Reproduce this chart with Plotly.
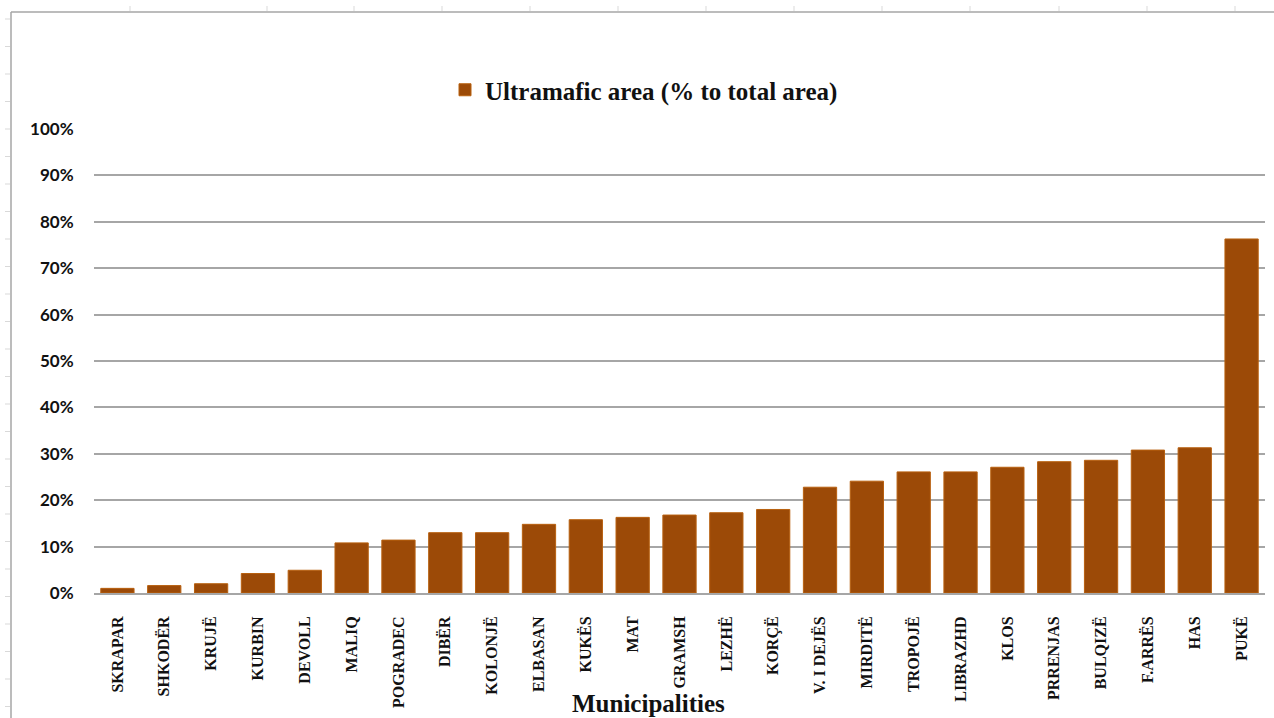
import plotly.graph_objects as go

municipalities = ["SKRAPAR", "SHKODËR", "KRUJË", "KURBIN", "DEVOLL", "MALIQ", "POGRADEC",
                  "DIBËR", "KOLONJË", "ELBASAN", "KUKËS", "MAT", "GRAMSH", "LEZHË", "KORÇË",
                  "V. I DEJËS", "MIRDITË", "TROPOJË", "LIBRAZHD", "KLOS", "PRRENJAS",
                  "BULQIZË", "F.ARRËS", "HAS", "PUKË"]
ultramafic_pct = [1.0, 1.6, 2.0, 4.2, 4.9, 10.8, 11.4, 13.0, 13.0, 14.8, 15.8, 16.3, 16.8,
                  17.3, 18.0, 22.8, 24.1, 26.1, 26.1, 27.1, 28.3, 28.6, 30.8, 31.3, 76.3]
ytick_vals = [0, 0.1, 0.2, 0.3, 0.4, 0.5, 0.6, 0.7, 0.8, 0.9, 1.0]

W, H = 1274, 718
L, R, T, B = 94, 9, 129, 125
PW, PH = W - L - R, H - T - B

def px(x):
    return (x - L) / PW

def py(y):
    return (H - B - y) / PH

fig = go.Figure()
fig.add_trace(go.Bar(
    x=municipalities,
    y=[v / 100 for v in ultramafic_pct],
    name="Ultramafic area (% to total area)",
    marker=dict(color="#9C4A07", line=dict(color="#B8600F", width=1)),
))

shapes = [
    dict(type="line", xref="paper", yref="paper", x0=px(11), x1=px(W), y0=py(12), y1=py(12),
         line=dict(color="#A6A6A6", width=1.5)),
    dict(type="line", xref="paper", yref="paper", x0=px(11), x1=px(11), y0=py(12), y1=py(H),
         line=dict(color="#A6A6A6", width=1.5)),
]
# faint spreadsheet row/column ticks outside the frame
yy = 19
while yy < H:
    shapes.append(dict(type="line", xref="paper", yref="paper", x0=px(5), x1=px(10),
                       y0=py(yy), y1=py(yy), line=dict(color="#D9D9D9", width=1)))
    yy += 27.5
for xx in [130, 267, 354, 442, 530, 618, 706, 794, 882, 970, 1059, 1147, 1235]:
    shapes.append(dict(type="line", xref="paper", yref="paper", x0=px(xx), x1=px(xx),
                       y0=py(6), y1=py(11), line=dict(color="#D9D9D9", width=1)))

fig.update_layout(
    width=W, height=H,
    margin=dict(l=L, r=R, t=T, b=B),
    paper_bgcolor="white", plot_bgcolor="white",
    bargap=0.29,
    showlegend=True,
    legend=dict(orientation="h", x=px(445), y=py(90), xanchor="left", yanchor="middle",
                font=dict(family="Liberation Serif", size=25, color="#111111", weight="bold"),
                bgcolor="rgba(0,0,0,0)"),
    xaxis=dict(
        tickangle=-90,
        tickfont=dict(family="Liberation Serif", size=16, color="#111111", weight="bold"),
        ticks="outside", ticklen=15, tickcolor="rgba(0,0,0,0)",
        showline=True, linecolor="#A6A6A6", linewidth=2,
        showgrid=False,
    ),
    yaxis=dict(
        range=[0, 1.0],
        tickvals=ytick_vals,
        tickformat=".0%",
        tickfont=dict(family="Lato", size=17, color="#111111", weight="bold"),
        ticks="outside", ticklen=16, tickcolor="rgba(0,0,0,0)",
        showgrid=True, gridcolor="#A6A6A6", gridwidth=1.5,
        zeroline=False, showline=False,
    ),
    shapes=shapes,
    annotations=[dict(text="<b>Municipalities</b>", xref="paper", yref="paper",
                      x=px(648), y=py(703), xanchor="center", yanchor="middle",
                      showarrow=False,
                      font=dict(family="Liberation Serif", size=25, color="#111111"))],
)

fig.write_html("out.html")
